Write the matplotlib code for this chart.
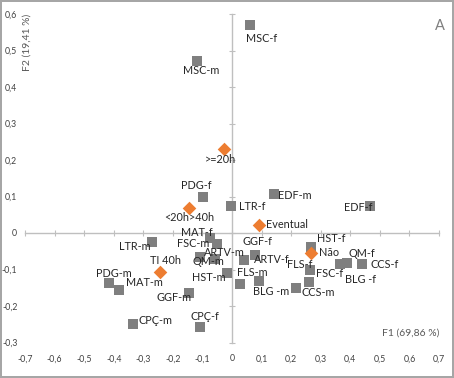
import matplotlib
matplotlib.use("Agg")
import matplotlib.pyplot as plt
import numpy as np

plt.rcParams['font.family'] = ['Lato', 'DejaVu Sans']

# modalidades (disciplina / sexo)
cat_labels = ['MSC-f', 'MSC-m', 'PDG-f', 'LTR-f', 'EDF-m', 'EDF-f', 'LTR-m', 'PDG-m',
              'MAT-m', 'GGF-m', 'CPÇ-m', 'CPÇ-f', 'MAT-f', 'FSC-m', 'ARTV-m', 'QM-m',
              'HST-m', 'GGF-f', 'ARTV-f', 'FLS-m', 'BLG -m', 'CCS-m', 'FLS-f', 'FSC-f',
              'HST-f', 'QM-f', 'BLG -f', 'CCS-f']
cat_f1 = [0.060, -0.118, -0.099, -0.005, 0.143, 0.468, -0.270, -0.417,
          -0.383, -0.147, -0.334, -0.107, -0.073, -0.050, -0.056, -0.107,
          -0.016, 0.077, 0.040, 0.027, 0.090, 0.216, 0.265, 0.261,
          0.267, 0.389, 0.366, 0.440]
cat_f2 = [0.570, 0.472, 0.100, 0.074, 0.108, 0.073, -0.025, -0.137,
          -0.157, -0.164, -0.249, -0.257, -0.014, -0.031, -0.072, -0.065,
          -0.109, -0.060, -0.073, -0.140, -0.132, -0.151, -0.101, -0.135,
          -0.038, -0.082, -0.086, -0.086]

# carga horaria
hour_labels = ['>=20h', '<20h>40h', 'Eventual', 'Não', 'TI 40h']
hour_f1 = [-0.028, -0.145, 0.090, 0.267, -0.245]
hour_f2 = [0.231, 0.068, 0.023, -0.054, -0.108]

xticks = np.round(np.arange(-0.7, 0.71, 0.1), 1)
yticks = np.round(np.arange(-0.3, 0.61, 0.1), 1)

# posicao dos rotulos (dx, dy em pixels, alinhamento)
offsets = {
    'MSC-f': (-4, -14, 'left'), 'MSC-m': (4, -10, 'center'), 'PDG-f': (-6, 11, 'center'),
    'LTR-f': (8, -1, 'left'), 'EDF-m': (4, -2, 'left'), 'EDF-f': (2, -1, 'right'),
    'LTR-m': (-2, -4, 'right'), 'PDG-m': (-13, 10, 'left'), 'MAT-m': (7, 8, 'left'),
    'GGF-m': (3, -5, 'right'), 'CPÇ-m': (5, 3, 'left'), 'CPÇ-f': (-10, 10, 'left'),
    'MAT-f': (2, 6, 'right'), 'FSC-m': (-8, 1, 'right'), 'ARTV-m': (-11, 7, 'left'),
    'QM-m': (-8, -5, 'left'), 'HST-m': (-2, -5, 'right'), 'GGF-f': (-12, 13, 'left'),
    'ARTV-f': (10, 0, 'left'), 'FLS-m': (-3, 12, 'left'), 'BLG -m': (-6, -10, 'left'),
    'CCS-m': (6, -4, 'left'), 'FLS-f': (2, 5, 'right'), 'FSC-f': (7, 9, 'left'),
    'HST-f': (6, 8, 'left'), 'QM-f': (1, 9, 'left'), 'BLG -f': (5, -15, 'left'),
    'CCS-f': (8, 0, 'left'),
    '>=20h': (-3, -11, 'center'), '<20h>40h': (0, -9, 'center'), 'Eventual': (7, 0, 'left'),
    'Não': (8, 0, 'left'), 'TI 40h': (-10, 12, 'left'),
}

fig = plt.figure(figsize=(4.54, 3.78), dpi=100)
fig.patch.set_edgecolor('#a6a6a6')
fig.patch.set_linewidth(1.5)
ax = fig.add_axes([25 / 454, 1 - 342.5 / 378, 414 / 454, 328.5 / 378])

axis_grey = '#bfbfbf'
ax.scatter(cat_f1, cat_f2, marker='s', s=44, color='#7f7f7f', zorder=3, linewidths=0)
ax.scatter(hour_f1, hour_f2, marker='D', s=48, color='#ed7d31', zorder=4, linewidths=0)

for lab, x, y in zip(cat_labels + hour_labels, cat_f1 + hour_f1, cat_f2 + hour_f2):
    dx, dy, ha = offsets[lab]
    ax.annotate(lab, (x, y), xytext=(dx, dy), textcoords='offset pixels',
                ha=ha, va='center', fontsize=7.8, color='#262626', zorder=5)

ax.set_xlim(-0.7, 0.7)
ax.set_ylim(-0.3, 0.6)
ax.set_xticks(xticks)
ax.set_yticks(yticks)
ax.set_xticklabels([f"{v:.1f}".replace('.', ',').replace('-0,0', '0').replace('0,0', '0') for v in xticks])
ax.set_yticklabels([f"{v:.1f}".replace('.', ',').replace('-0,0', '0').replace('0,0', '0') for v in yticks])

# eixos cruzando no zero, rotulos nas bordas
for s in ['left', 'bottom']:
    ax.spines[s].set_visible(False)
ax.spines['top'].set_position(('data', 0))
ax.spines['right'].set_position(('data', 0))
for s in ['top', 'right']:
    ax.spines[s].set_color(axis_grey)
    ax.spines[s].set_linewidth(1)
ax.tick_params(axis='x', bottom=False, labelbottom=True, top=True, labeltop=False,
               direction='inout', length=5, color=axis_grey, labelsize=6.3,
               labelcolor='#404040', pad=6)
ax.tick_params(axis='y', left=False, labelleft=True, right=True, labelright=False,
               direction='inout', length=5, color=axis_grey, labelsize=6.3,
               labelcolor='#404040', pad=3)
ax.patch.set_alpha(0)

ax.text(1.0, 0.03, 'F1 (69,86 %)', transform=ax.transAxes, ha='right', va='center',
        fontsize=7.5, color='#595959')
ax.text(0.005, 1.0, 'F2 (19,41 %)', transform=ax.transAxes, ha='center', va='top',
        rotation=90, fontsize=7.5, color='#595959')
fig.text(440 / 454, 1 - 26 / 378, 'A', ha='center', va='center', fontsize=10.5, color='#7f7f7f')

fig.savefig('out.png', dpi=100)
